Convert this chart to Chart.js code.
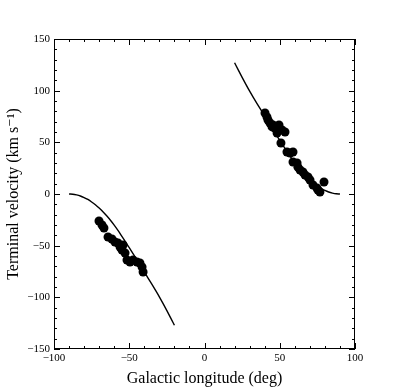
<!DOCTYPE html>
<html>
<head>
<meta charset="utf-8">
<script src="https://cdn.jsdelivr.net/npm/chart.js@4/dist/chart.umd.min.js"></script>
<style>
html,body{margin:0;padding:0;background:#fff;}
#wrap{width:395px;height:389px;}
</style>
</head>
<body>
<div id="wrap"><canvas id="c" width="395" height="389"></canvas></div>
<script>
// Observed terminal velocities, first quadrant
const q1Longitude = [40.2, 41.5, 42.2, 43.5, 45.5, 44.9, 46.8, 49.5, 51.5, 53.5, 48.2, 50.8, 54.8, 56.8, 58.8, 58.8, 61.5, 62.1, 63.5, 65.4, 66.8, 68.8, 70.1, 72.1, 74.7, 76.7, 79.4, 75.4];
const q1Velocity  = [78.4, 74.5, 71.6, 68.7, 66.8, 64.9, 63.9, 66.8, 62.0, 60.0, 59.0, 49.4, 40.7, 39.7, 40.7, 31.0, 30.0, 26.0, 23.2, 21.3, 18.4, 16.5, 13.6, 8.7, 5.8, 1.9, 11.6, 3.9];
// Observed terminal velocities, fourth quadrant
const q4Longitude = [-70.1, -68.1, -66.8, -64.1, -61.5, -59.5, -57.5, -56.1, -54.8, -54.1, -52.8, -51.5, -49.5, -47.5, -44.9, -42.9, -41.5, -40.8];
const q4Velocity  = [-26.1, -30.0, -32.9, -41.6, -43.6, -46.5, -47.4, -51.3, -54.2, -49.4, -57.1, -63.9, -65.8, -63.9, -65.8, -66.8, -70.7, -75.5];
// Model curve
const modelLongitudeRight = [20, 22.5, 25, 27.5, 30, 32.5, 35, 37.5, 40, 42.5, 45, 47.5, 50, 52.5, 55, 57.5, 60, 62.5, 65, 67.5, 70, 72.5, 75, 77.5, 80, 82.5, 85, 87.5, 90];
const modelVelocityRight  = [127.0, 119.9, 112.9, 106.1, 99.5, 93.3, 87.3, 81.4, 75.4, 69.4, 63.6, 57.7, 51.9, 46.3, 40.7, 35.2, 30.1, 25.4, 21.1, 17.1, 13.6, 10.4, 7.7, 5.3, 3.4, 1.9, 0.9, 0.2, 0];
const modelLongitudeLeft  = [-90, -87.5, -85, -82.5, -80, -77.5, -75, -72.5, -70, -67.5, -65, -62.5, -60, -57.5, -55, -52.5, -50, -47.5, -45, -42.5, -40, -37.5, -35, -32.5, -30, -27.5, -25, -22.5, -20];
const modelVelocityLeft   = [0, -0.2, -0.9, -1.9, -3.4, -5.3, -7.7, -10.4, -13.6, -17.1, -21.1, -25.4, -30.1, -35.2, -40.7, -46.3, -51.9, -57.7, -63.6, -69.4, -75.4, -81.4, -87.3, -93.3, -99.5, -106.1, -112.9, -119.9, -127.0];
const xTicks = [-100, -50, 0, 50, 100];
const yTicks = [-150, -100, -50, 0, 50, 100, 150];

const pts = (xs, ys) => xs.map((x, i) => ({x: x, y: ys[i]}));
const FONT = "'Liberation Serif', 'DejaVu Serif', serif";
const minus = v => String(v).replace('-', '\u2212');

const inwardTicks = {
  id: 'inwardTicks',
  afterDraw(chart) {
    const {ctx, chartArea: a, scales: {x, y}} = chart;
    ctx.save();
    ctx.strokeStyle = '#000';
    ctx.lineWidth = 1;
    ctx.strokeRect(a.left + 0.5, a.top + 0.5, a.right - a.left - 1, a.bottom - a.top - 1);
    ctx.beginPath();
    for (let v = x.min; v <= x.max; v += 10) {
      const p = Math.round(x.getPixelForValue(v)) + 0.5;
      const len = (v % 50 === 0) ? 6 : 3;
      ctx.moveTo(p, a.bottom); ctx.lineTo(p, a.bottom - len);
      ctx.moveTo(p, a.top); ctx.lineTo(p, a.top + len);
    }
    for (let v = y.min; v <= y.max; v += 10) {
      const p = Math.round(y.getPixelForValue(v)) + 0.5;
      const len = (v % 50 === 0) ? 6 : 3;
      ctx.moveTo(a.left, p); ctx.lineTo(a.left + len, p);
      ctx.moveTo(a.right, p); ctx.lineTo(a.right - len, p);
    }
    ctx.stroke();
    ctx.restore();
  }
};

new Chart(document.getElementById('c'), {
  type: 'scatter',
  data: {
    datasets: [
      {data: pts(modelLongitudeRight, modelVelocityRight), showLine: true, borderColor: '#000', borderWidth: 1.4, pointRadius: 0, tension: 0.4, cubicInterpolationMode: 'monotone'},
      {data: pts(modelLongitudeLeft, modelVelocityLeft), showLine: true, borderColor: '#000', borderWidth: 1.4, pointRadius: 0, tension: 0.4, cubicInterpolationMode: 'monotone'},
      {data: pts(q1Longitude, q1Velocity), backgroundColor: '#000', borderColor: '#000', pointRadius: 4.5, borderWidth: 0},
      {data: pts(q4Longitude, q4Velocity), backgroundColor: '#000', borderColor: '#000', pointRadius: 4.5, borderWidth: 0}
    ]
  },
  options: {
    responsive: false,
    animation: false,
    devicePixelRatio: 1,
    layout: {padding: {top: 39, right: 40, left: 0, bottom: 0}},
    plugins: {legend: {display: false}, tooltip: {enabled: false}},
    scales: {
      x: {
        type: 'linear', min: -100, max: 100,
        afterBuildTicks: s => { s.ticks = xTicks.map(v => ({value: v})); },
        afterFit: s => { s.height = 40; },
        grid: {display: false, drawTicks: false},
        border: {display: false},
        ticks: {color: '#000', padding: 3, font: {family: FONT, size: 11}, callback: v => minus(v)},
        title: {display: true, text: 'Galactic longitude (deg)', color: '#000', font: {family: FONT, size: 16}, padding: {top: 0, bottom: 1}}
      },
      y: {
        type: 'linear', min: -150, max: 150,
        afterBuildTicks: s => { s.ticks = yTicks.map(v => ({value: v})); },
        afterFit: s => { s.width = 54; },
        grid: {display: false, drawTicks: false},
        border: {display: false},
        ticks: {color: '#000', padding: 4, font: {family: FONT, size: 11}, callback: v => minus(v)},
        title: {display: true, text: 'Terminal velocity (km s\u207B\u00B9)', color: '#000', font: {family: FONT, size: 16}, padding: {top: 4, bottom: 0}}
      }
    }
  },
  plugins: [inwardTicks]
});
</script>
</body>
</html>
